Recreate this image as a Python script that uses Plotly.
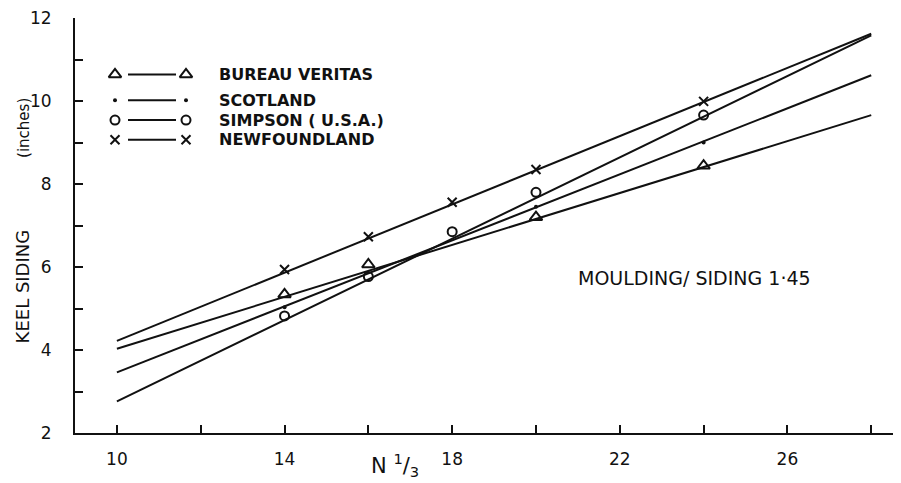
import plotly.graph_objects as go

# ---- data ----
x_ends = [10, 28]
bv_line = [4.03, 9.66]
sc_line = [3.46, 10.62]
si_line = [2.76, 11.58]
nf_line = [4.22, 11.62]

bv_x = [14, 16, 20, 24]
bv_y = [5.34, 6.06, 7.2, 8.44]
sc_x = [14, 20, 24]
sc_y = [5.03, 7.45, 9.0]
si_x = [14, 16, 18, 20, 24]
si_y = [4.82, 5.77, 6.85, 7.8, 9.66]
nf_x = [14, 16, 18, 20, 24]
nf_y = [5.94, 6.73, 7.56, 8.35, 9.99]

series_names = ["BUREAU VERITAS", "SCOTLAND", "SIMPSON ( U.S.A.)", "NEWFOUNDLAND"]
x_tickvals = [10, 14, 18, 22, 26]
y_tickvals = [2, 4, 6, 8, 10, 12]

INK = "#111111"
FONT = "DejaVu Sans"


# page-pixel helpers (plot area spans page x 75..901, y 14..433)
def px(x):
    return (x - 75) / 826.0


def py(y):
    return (433 - y) / 419.0


fig = go.Figure()

markers = [
    dict(symbol="triangle-up-open", size=11, line=dict(width=2, color=INK), color=INK),
    dict(symbol="circle", size=4, color=INK),
    dict(symbol="circle-open", size=9, line=dict(width=2, color=INK), color=INK),
    dict(symbol="x-thin-open", size=9, line=dict(width=2, color=INK), color=INK),
]
lines = [bv_line, sc_line, si_line, nf_line]
pts = [(bv_x, bv_y), (sc_x, sc_y), (si_x, si_y), (nf_x, nf_y)]

for name, ly, (mx, my), mk in zip(series_names, lines, pts, markers):
    fig.add_trace(go.Scatter(x=x_ends, y=ly, mode="lines", line=dict(color=INK, width=2),
                             showlegend=False, hoverinfo="skip"))
    fig.add_trace(go.Scatter(x=mx, y=my, mode="markers", marker=mk, name=name,
                             showlegend=False))

# ---- hand-drawn style legend on an overlay pixel-space axis ----
leg_rows = [71, 97, 117, 137]
for name, ry, mk in zip(series_names, leg_rows, markers):
    fig.add_trace(go.Scatter(x=[128, 176], y=[ry, ry], xaxis="x2", yaxis="y2", mode="lines",
                             line=dict(color=INK, width=2), showlegend=False, hoverinfo="skip"))
    fig.add_trace(go.Scatter(x=[115, 186], y=[ry, ry], xaxis="x2", yaxis="y2", mode="markers",
                             marker=mk, showlegend=False, hoverinfo="skip"))

annotations = []
for name, ry in zip(series_names, leg_rows):
    annotations.append(dict(x=px(217), y=py(ry), xref="paper", yref="paper", text=name,
                            showarrow=False, xanchor="left", yanchor="middle",
                            font=dict(family=FONT, size=16, color=INK, weight="bold")))

annotations.append(dict(x=px(576), y=py(277), xref="paper", yref="paper",
                        text="MOULDING/ SIDING 1·45",
                        showarrow=False, xanchor="left", yanchor="middle",
                        font=dict(family=FONT, size=19, color=INK)))
annotations.append(dict(x=px(22), y=py(285), xref="paper", yref="paper",
                        text="KEEL SIDING",
                        showarrow=False, textangle=-90, xanchor="center", yanchor="middle",
                        font=dict(family=FONT, size=18, color=INK)))
annotations.append(dict(x=px(24), y=py(125), xref="paper", yref="paper",
                        text="(inches)",
                        showarrow=False, textangle=-90, xanchor="center", yanchor="middle",
                        font=dict(family=FONT, size=15, color=INK)))
annotations.append(dict(x=px(369), y=py(465), xref="paper", yref="paper",
                        text="N <sup>1</sup>/<sub>3</sub>",
                        showarrow=False, xanchor="left", yanchor="middle",
                        font=dict(family=FONT, size=21, color=INK)))

# The page body has an 8px margin, so the figure is 893x475 with margins
# chosen to place the plot area at page x 75..901, y 14..433.
fig.update_layout(
    width=893, height=475,
    margin=dict(l=67, r=0, t=6, b=50),
    paper_bgcolor="white", plot_bgcolor="white",
    showlegend=False,
    annotations=annotations,
    xaxis=dict(range=[9.0, 28.71], tickvals=x_tickvals,
               ticks="inside", ticklen=8, tickwidth=2, tickcolor=INK,
               minor=dict(dtick=2, tick0=0, ticks="inside", ticklen=8, tickwidth=2, tickcolor=INK),
               showline=True, linecolor=INK, linewidth=2, showgrid=False, zeroline=False,
               tickfont=dict(family=FONT, size=17, color=INK), ticklabelstandoff=10,
               ticklabeloverflow="allow"),
    yaxis=dict(range=[2, 12], tickvals=y_tickvals,
               ticks="inside", ticklen=8, tickwidth=2, tickcolor=INK,
               minor=dict(dtick=1, tick0=0, ticks="inside", ticklen=8, tickwidth=2, tickcolor=INK),
               showline=True, linecolor=INK, linewidth=2, showgrid=False, zeroline=False,
               tickfont=dict(family=FONT, size=17, color=INK), ticklabelstandoff=18,
               ticklabeloverflow="allow"),
    xaxis2=dict(overlaying="x", range=[75, 901], visible=False, fixedrange=True),
    yaxis2=dict(overlaying="y", range=[433, 14], visible=False, fixedrange=True),
)

fig.write_html("out.html")
